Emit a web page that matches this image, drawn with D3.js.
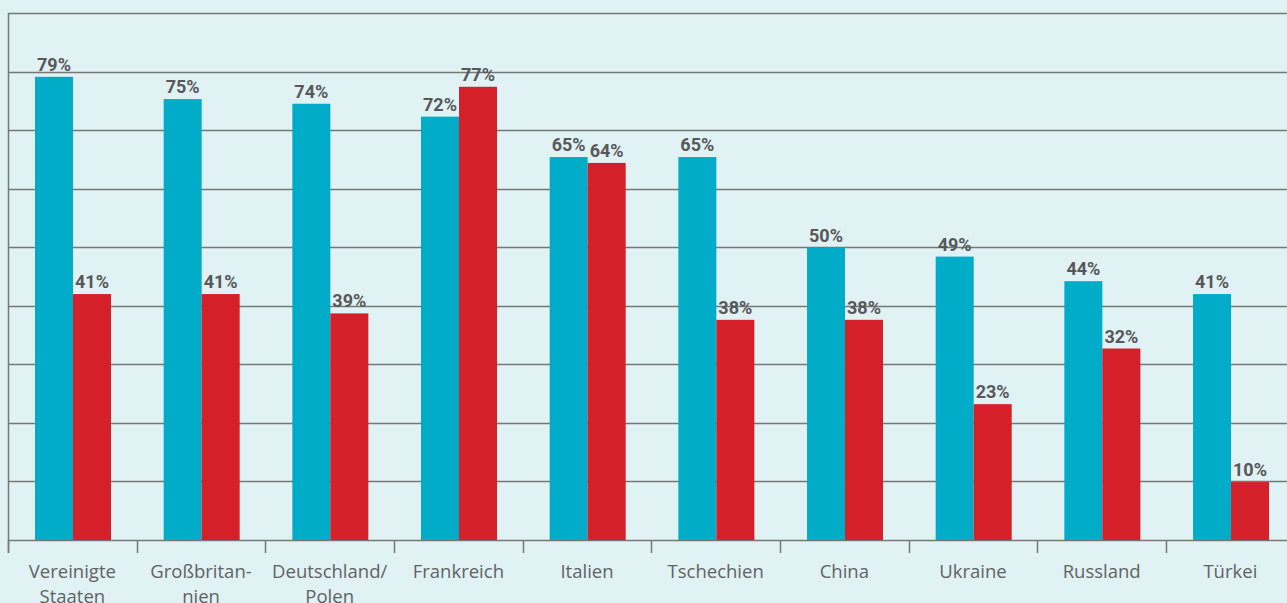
<!DOCTYPE html>
<html>
<head>
<meta charset="utf-8">
<script src="https://cdn.jsdelivr.net/npm/d3@7"></script>
<style>
  html, body { margin: 0; padding: 0; background: #e0f2f4; overflow: hidden; }
  svg { display: block; }
</style>
</head>
<body>
<div id="chart"></div>
<script>
const categories = [
  ['Vereinigte', 'Staaten'],
  ['Großbritan-', 'nien'],
  ['Deutschland/', 'Polen'],
  ['Frankreich'],
  ['Italien'],
  ['Tschechien'],
  ['China'],
  ['Ukraine'],
  ['Russland'],
  ['Türkei']
];
// bar heights as drawn in the picture (percent)
const blueValues = [79.1, 75.3, 74.5, 72.3, 65.4, 65.4, 49.9, 48.4, 44.2, 42.0];
const redValues = [42.0, 42.0, 38.7, 77.4, 64.4, 37.6, 37.6, 23.2, 32.7, 9.9];
// printed value labels
const blueLabels = ['79%', '75%', '74%', '72%', '65%', '65%', '50%', '49%', '44%', '41%'];
const redLabels = ['41%', '41%', '39%', '77%', '64%', '38%', '38%', '23%', '32%', '10%'];
const gridTicks = [0, 10, 20, 30, 40, 50, 60, 70, 80, 90];

const width = 1287, height = 603;
const margin = {top: 13, left: 8, bottom: 63};
const bandW = 128.67;

const svg = d3.select('#chart').append('svg')
  .attr('width', width)
  .attr('height', height);

const names = categories.map(c => c.join(' '));
const x = d3.scaleBand()
  .domain(names)
  .range([margin.left, margin.left + bandW * names.length])
  .paddingInner(0)
  .paddingOuter(0);

const y = d3.scaleLinear()
  .domain([0, 90])
  .range([height - margin.bottom, margin.top]);

const x1 = d3.scaleBand()
  .domain(['blue', 'red'])
  .range([27, 27 + 76]);

// grid lines
svg.append('g').selectAll('line').data(gridTicks).enter()
  .append('line')
    .attr('x1', margin.left)
    .attr('x2', width)
    .attr('y1', d => Math.round(y(d)) + 0.5)
    .attr('y2', d => Math.round(y(d)) + 0.5)
    .attr('stroke', '#777')
    .attr('stroke-width', 1.5);

// left axis line
svg.append('line')
  .attr('x1', margin.left + 0.5).attr('x2', margin.left + 0.5)
  .attr('y1', y(90)).attr('y2', y(0) + 13)
  .attr('stroke', '#777').attr('stroke-width', 1.5);

// category tick marks
svg.append('g').selectAll('line').data(names).enter()
  .append('line')
    .attr('x1', d => Math.round(x(d)) + 0.5)
    .attr('x2', d => Math.round(x(d)) + 0.5)
    .attr('y1', y(0))
    .attr('y2', y(0) + 13)
    .attr('stroke', '#777')
    .attr('stroke-width', 1.5);

const data = names.map((n, i) => ({
  name: n,
  blue: blueValues[i], red: redValues[i],
  blueLabel: blueLabels[i], redLabel: redLabels[i]
}));
const colors = { blue: '#00acc8', red: '#d5202a' };

const groups = svg.append('g').selectAll('g').data(data).enter()
  .append('g')
    .attr('transform', d => `translate(${x(d.name)},0)`);

['blue', 'red'].forEach(key => {
  groups.append('rect')
    .attr('fill', colors[key])
    .attr('x', x1(key))
    .attr('y', d => y(d[key]))
    .attr('width', x1.bandwidth())
    .attr('height', d => y(0) - y(d[key]));

  groups.append('text')
    .attr('x', x1(key) + x1.bandwidth() / 2)
    .attr('y', d => y(d[key]) - 6)
    .attr('text-anchor', 'middle')
    .style('font-family', 'Roboto, sans-serif')
    .style('font-weight', 'bold')
    .style('font-size', '18px')
    .style('fill', '#58585a')
    .text(d => d[key + 'Label']);
});

// category labels
const labels = svg.append('g').selectAll('text').data(categories).enter()
  .append('text')
    .attr('x', (d, i) => x(names[i]) + bandW / 2)
    .attr('y', 578)
    .attr('text-anchor', 'middle')
    .style('font-family', '"Open Sans", sans-serif')
    .style('font-size', '18.5px')
    .style('fill', '#616264');

labels.selectAll('tspan').data(d => d).enter()
  .append('tspan')
    .attr('x', function() { return d3.select(this.parentNode).attr('x'); })
    .attr('dy', (d, i) => i === 0 ? 0 : 25)
    .text(d => d);
</script>
</body>
</html>
